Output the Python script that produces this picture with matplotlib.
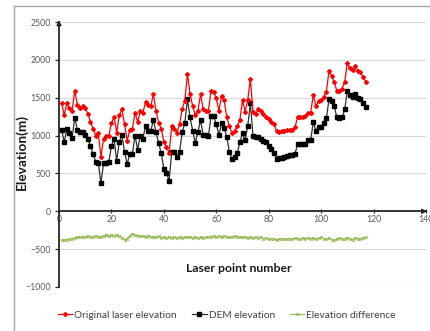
import matplotlib
matplotlib.use("Agg")
import matplotlib.pyplot as plt
from matplotlib.lines import Line2D
import numpy as np

plt.rcParams['font.family'] = ['Lato', 'DejaVu Sans']

laser = [1426,1271,1426,1360,1325,1594,1400,1370,1385,1360,
         1290,1183,1090,1000,1030,720,960,990,1000,1160,
         1250,1040,1270,1350,1150,930,1080,1090,1300,1180,
         1320,1300,1440,1400,1385,1545,1330,1170,1090,920,
         850,770,1120,1090,1040,1150,1350,1460,1815,1550,
         1385,1270,1330,1545,1350,1330,1330,1590,1580,1490,
         1330,
         1523,1470,1240,1126,1029,1060,1126,1205,1470,1315,
         1470,1748,1315,1285,1347,1325,1285,1249,1215,1183,
         1150,1060,1045,1060,1065,1070,1075,1080,1108,1240,
         1245,1250,1260,1294,1300,1536,1388,1456,1470,1514,
         1580,1858,1788,1705,1590,1590,1620,1714,1965,1890,
         1868,1925,1855,1835,1774,1714]

dem = [1073,918,1086,1040,970,1236,1080,1050,1050,1010,
       960,860,755,653,640,375,633,640,653,860,
       960,665,918,1010,785,625,755,755,1000,815,
       1000,960,1125,1060,1060,1205,1045,905,765,565,
       507,400,785,785,720,785,1045,1170,1480,1240,
       1065,905,1050,1205,1010,1010,990,1255,1255,1150,
       1010,
       1161,1095,984,785,685,720,770,910,1029,940,
       1126,1426,1000,983,985,960,930,910,860,820,
       770,685,700,710,720,730,740,745,755,887,
       890,892,895,940,935,1183,1060,1115,1110,1170,
       1228,1479,1460,1385,1240,1228,1240,1347,1594,1535,
       1515,1545,1500,1480,1430,1377]

diff = [-380,-385,-375,-370,-365,-350,-340,-345,-335,-340,
        -330,-345,-335,-325,-340,-345,-320,-310,-330,-315,
        -320,-310,-330,-350,-375,-360,-325,-300,-310,-320,
        -325,-330,-335,-320,-340,-335,-345,-330,-350,-345,
        -355,-340,-350,-345,-355,-340,-350,-345,-335,-345,
        -350,-340,-355,-345,-350,-340,-345,-335,-330,-340,
        -330,-345,-325,-340,-335,-345,-330,-340,-335,-345,
        -340,-350,-345,-355,-340,-350,-345,-360,-355,-365,
        -370,-360,-375,-365,-360,-370,-365,-360,-370,-355,
        -360,-365,-355,-360,-350,-360,-350,-365,-355,-345,
        -360,-370,-355,-375,-385,-365,-355,-370,-360,-350,
        -365,-375,-355,-360,-370,-350,-345]

point_no = list(range(1, len(laser) + 1))
xticks = [0, 20, 40, 60, 80, 100, 120, 140]
yticks = [-1000, -500, 0, 500, 1000, 1500, 2000, 2500]
series_names = ["Original laser elevation", "DEM elevation", "Elevation difference"]

W, H = 430, 331
fig = plt.figure(figsize=(W/100, H/100), dpi=100)
fig.patch.set_facecolor('white')

# outer frame
fig.add_artist(Line2D([14/W, 1.0], [1-6/H, 1-6/H], color='#a6a6a6', lw=1.0, transform=fig.transFigure))
fig.add_artist(Line2D([14/W, 14/W], [0, 1-6/H], color='#a6a6a6', lw=1.0, transform=fig.transFigure))

ax = fig.add_axes([59/W, 1-287/H, (426-59)/W, (287-22)/H])
ax.set_xlim(0, 140)
ax.set_ylim(-1000, 2500)

red = '#ff0000'
black = '#000000'
green = '#9bbb59'

ax.plot(point_no, laser, color=red, lw=0.9, marker='D', ms=2.0, mec=red, mfc=red, zorder=4)
ax.plot(point_no, dem, color='#303030', lw=0.9, marker='s', ms=2.6, mec=black, mfc=black, zorder=3)
ax.plot(point_no, diff, color=green, lw=0.9, marker='x', ms=2.0, mew=0.7, mec=green, zorder=3)

ax.set_yticks(yticks)
ax.set_xticks(xticks)
ax.grid(axis='y', color='#d9d9d9', lw=0.9)
ax.grid(axis='x', visible=False)
ax.set_axisbelow(True)

for s in ['top', 'right']:
    ax.spines[s].set_visible(False)
ax.spines['bottom'].set_position(('data', 0))
ax.spines['bottom'].set_linewidth(1.3)
ax.spines['left'].set_linewidth(1.3)
ax.spines['bottom'].set_color('#262626')
ax.spines['left'].set_color('#262626')

ax.tick_params(axis='both', labelsize=6.3, labelcolor='#595959', color='#262626', length=3, width=0.9)
ax.tick_params(axis='x', direction='inout', pad=1.5)
ax.tick_params(axis='y', direction='out', pad=3)

# arrows
ax.annotate('', xy=(141.5, 0), xytext=(138, 0),
            arrowprops=dict(arrowstyle='-|>', color='#262626', lw=1.0, mutation_scale=7),
            annotation_clip=False)
ax.annotate('', xy=(0, 2560), xytext=(0, 2400),
            arrowprops=dict(arrowstyle='-|>', color='#262626', lw=1.0, mutation_scale=7),
            annotation_clip=False)

fig.text(239/W, 1-268/H, 'Laser point number', ha='center', va='center',
         fontsize=8.8, fontweight='bold', color='#1a1a1a')
fig.text(22/W, 1-152/H, 'Elevation(m)', ha='center', va='center', rotation=90,
         fontsize=9.8, fontweight='bold', color='#1a1a1a')

handles = [
    Line2D([], [], color=red, lw=0.9, marker='D', ms=2.0, mfc=red, mec=red),
    Line2D([], [], color='#303030', lw=0.9, marker='s', ms=2.6, mfc=black, mec=black),
    Line2D([], [], color=green, lw=0.9, marker='x', ms=2.0, mew=0.7, mec=green),
]
leg = fig.legend(handles, series_names, loc='center', bbox_to_anchor=(227/W, 1-315/H),
                 ncol=3, frameon=False, fontsize=7.3, handlelength=1.4, handletextpad=0.2,
                 columnspacing=1.5, labelcolor='#404040')

fig.savefig('out.png', dpi=100)
